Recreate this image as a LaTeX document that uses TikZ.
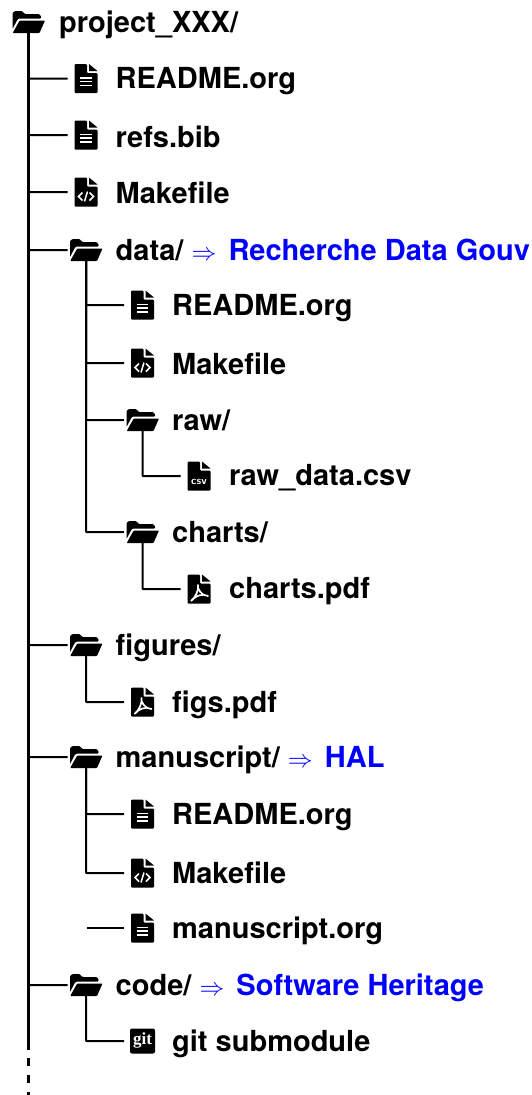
\documentclass[tikz,border=0pt]{standalone}
\usepackage{fontspec}
\setmainfont{TeX Gyre Heros}
\newfontfamily\gitfont{Liberation Serif}
\newcommand{\archive}[1]{{\color{blue}$\Rightarrow$ \kern4pt #1}}
\tikzset{
    blank/.style={inner sep=0pt, minimum width=33pt, minimum height=30pt, outer sep=2pt},
    shifted/.style={shift={(path picture bounding box.center)}},
    sheet/.pic={
        \fill[rounded corners=1pt] (-11.5,-14.5) -- (1,-14.5) -- (1,-5.5) -- (11.5,-5.5) -- (11.5,14.5) -- (-11.5,14.5) -- cycle;
        \fill (3,-14.5) -- (11.5,-7.5) -- (3,-7.5) -- cycle;
    },
    docicon/.style={blank, path picture={\begin{scope}[shifted]
        \pic {sheet};
        \foreach \yy in {-0.7,3,7} \draw[white, line width=1.5pt] (-6,\yy) -- (5.5,\yy);
    \end{scope}}},
    makeicon/.style={blank, path picture={\begin{scope}[shifted]
        \pic {sheet};
        \draw[white, line width=1.7pt] (-3.5,0.5) -- (-7.5,4.5) -- (-3.5,8.5);
        \draw[white, line width=1.7pt] (3.5,0.5) -- (7.5,4.5) -- (3.5,8.5);
        \draw[white, line width=1.5pt] (1.5,-0.5) -- (-1.5,9.5);
    \end{scope}}},
    csvicon/.style={blank, path picture={\begin{scope}[shifted]
        \pic {sheet};
        \node[white, font=\sffamily\bfseries\fontsize{11}{11}\selectfont, inner sep=0pt] (csvtext) at (0,6) {csv};
    \end{scope}}},
    pdficon/.style={blank, path picture={\begin{scope}[shifted]
        \pic {sheet};
        \draw[white, line width=1.7pt, line join=round] (-8,12) .. controls (-3,8) and (0,0) .. (-1,-4) .. controls (-2,-1) and (2,7) .. (9,7) .. controls (3,4) and (-4,7) .. (-8,12);
    \end{scope}}},
    giticon/.style={blank, path picture={\begin{scope}[shifted]
        \fill[rounded corners=2pt] (-12.5,-12.5) rectangle (12.5,12.5);
        \node[white, font=\gitfont\bfseries\fontsize{17}{17}\selectfont, inner sep=0pt] (gittext) at (0,-0.5) {git};
    \end{scope}}},
    foldericon/.style={blank, path picture={\begin{scope}[shifted]
        \fill[rounded corners=0.8pt] (-16,-9) -- (-13.5,-11) -- (-6.5,-11) -- (-3.5,-8) -- (10.5,-8) -- (12.5,-6) -- (12.5,-3.5) -- (-9.5,-3.5) -- (-11,-2.5) -- (-16,7) -- cycle;
        \fill[rounded corners=0.8pt] (-8.8,-1.5) -- (16.5,-1.5) -- (11,11) -- (-15.8,11) -- cycle;
    \end{scope}}, minimum height=22pt},
    entry/.style={anchor=base west, inner sep=0pt, font=\bfseries\fontsize{29}{35}\selectfont},
    wire/.style={line width=2pt, rounded corners=0.6pt, shorten <=-2pt},
    trunk/.style={line width=2.2pt},
}
\begin{document}
\begin{tikzpicture}[x=1pt, y=-1pt]
    \useasboundingbox (0,0) rectangle (532,1095);

    \node[foldericon] (root) at (28.5,22) {};
    \node[entry] (rootname) at (59,32) {project\_XXX/};

    \node[docicon] (readme) at (86,78.5) {};
    \node[entry] (readmename) at (115.5,88) {README.org};
    \node[docicon] (refs) at (86,135) {};
    \node[entry] (refsname) at (115.5,147) {refs.bib};
    \node[makeicon] (make) at (86,192) {};
    \node[entry] (makename) at (115.5,203) {Makefile};

    \node[foldericon] (data) at (86,250) {};
    \node[entry] (dataname) at (115.5,260) {data/ \archive{Recherche Data Gouv}};
    \node[docicon] (dreadme) at (142.5,305) {};
    \node[entry] (dreadmename) at (172,315) {README.org};
    \node[makeicon] (dmake) at (142.5,363) {};
    \node[entry] (dmakename) at (172,374) {Makefile};
    \node[foldericon] (raw) at (142.5,420) {};
    \node[entry] (rawname) at (172,430) {raw/};
    \node[csvicon] (rawcsv) at (199,476) {};
    \node[entry] (rawcsvname) at (229,485) {raw\_data.csv};
    \node[foldericon] (charts) at (142.5,532) {};
    \node[entry] (chartsname) at (172,542) {charts/};
    \node[pdficon] (chartspdf) at (199,589) {};
    \node[entry] (chartspdfname) at (229,598) {charts.pdf};

    \node[foldericon] (figures) at (86,645) {};
    \node[entry] (figuresname) at (115.5,655) {figures/};
    \node[pdficon] (figspdf) at (142.5,702) {};
    \node[entry] (figspdfname) at (172,712) {figs.pdf};

    \node[foldericon] (manus) at (86,757) {};
    \node[entry] (manusname) at (115.5,767) {manuscript/ \archive{HAL}};
    \node[docicon] (mreadme) at (142.5,814) {};
    \node[entry] (mreadmename) at (172,824) {README.org};
    \node[makeicon] (mmake) at (142.5,873) {};
    \node[entry] (mmakename) at (172,883) {Makefile};
    \node[docicon] (morg) at (142.5,928) {};
    \node[entry] (morgname) at (172,938) {manuscript.org};

    \node[foldericon] (code) at (86,985) {};
    \node[entry] (codename) at (115.5,995) {code/ \archive{Software Heritage}};
    \node[giticon] (git) at (142.5,1041) {};
    \node[entry] (gitname) at (172,1051) {git submodule};

    % main line
    \coordinate (solidend) at (28.5,1050);
    \coordinate (dashend) at (28.5,1095);
    \coordinate (morgstart) at (89,928);
    \draw[trunk, shorten <=-2pt] (root.south) -- (solidend);
    \draw[trunk, dash pattern=on 8pt off 9pt] (solidend) ++(0,8) -- (dashend);

    \foreach \kid in {readme,refs,make,data,figures,manus,code}
        \draw[wire] (root.south) |- (\kid.west);

    \foreach \kid in {dreadme,dmake,raw,charts}
        \draw[wire] (data.south) |- (\kid.west);
    \draw[wire] (raw.south) |- (rawcsv.west);
    \draw[wire] (charts.south) |- (chartspdf.west);

    \draw[wire] (figures.south) |- (figspdf.west);

    \foreach \kid in {mreadme,mmake}
        \draw[wire] (manus.south) |- (\kid.west);
    \draw[wire] (morgstart) -- (morg.west);

    \draw[wire] (code.south) |- (git.west);
\end{tikzpicture}
\end{document}
